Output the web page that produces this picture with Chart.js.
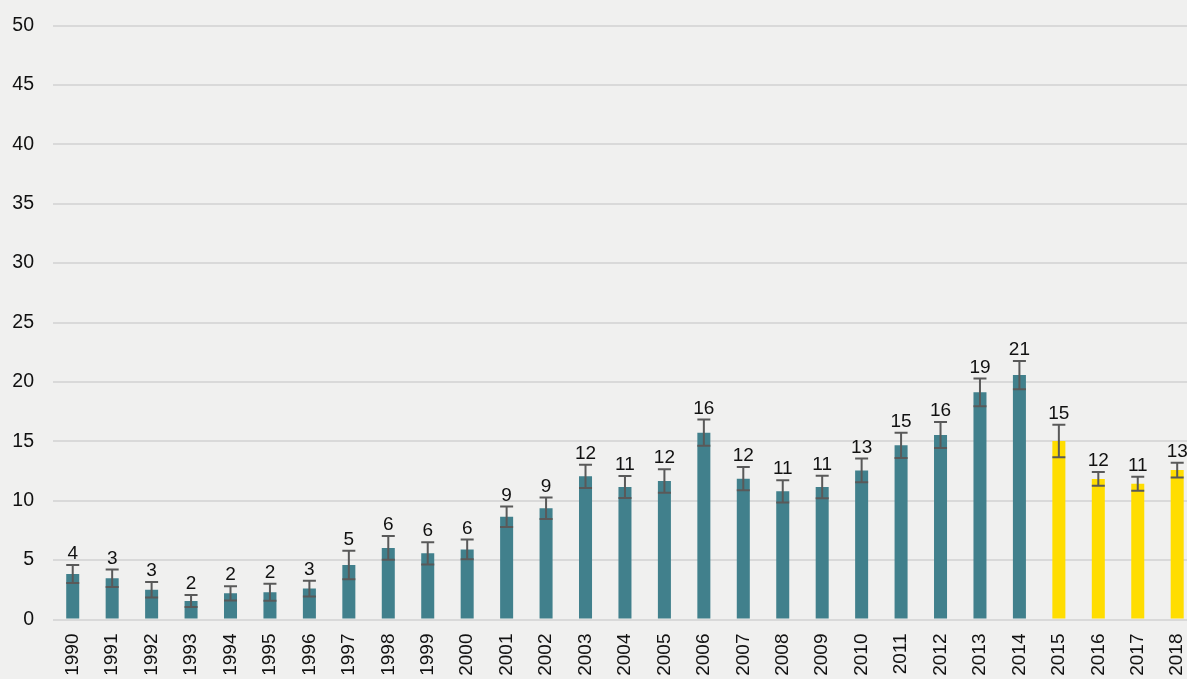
<!DOCTYPE html>
<html>
<head>
<meta charset="utf-8">
<script src="https://cdn.jsdelivr.net/npm/chart.js@4/dist/chart.umd.min.js"></script>
<style>
    html, body {
        margin: 0;
        padding: 0;
        background: #f0f0ef;
        overflow: hidden;
    }
    .chart-box {
        width: 1214px;
        height: 679px;
    }
</style>
</head>
<body>
<div class="chart-box">
    <canvas id="yearChart"></canvas>
</div>
<script>
// Yearly values with their uncertainty (+/-)
const years = ['1990', '1991', '1992', '1993', '1994', '1995', '1996', '1997', '1998', '1999',
    '2000', '2001', '2002', '2003', '2004', '2005', '2006', '2007', '2008', '2009',
    '2010', '2011', '2012', '2013', '2014', '2015', '2016', '2017', '2018'];
const values = [3.83, 3.47, 2.51, 1.56, 2.2, 2.29, 2.6, 4.59, 6.02, 5.57,
    5.9, 8.65, 9.36, 12.05, 11.15, 11.66, 15.73, 11.85, 10.79, 11.15,
    12.55, 14.66, 15.53, 19.12, 20.58, 15.03, 11.83, 11.43, 12.58];
const errors = [0.76, 0.73, 0.65, 0.5, 0.6, 0.72, 0.66, 1.2, 1.0, 0.93,
    0.83, 0.86, 0.9, 0.98, 0.93, 0.98, 1.1, 0.98, 0.94, 0.95,
    1.0, 1.07, 1.1, 1.16, 1.19, 1.37, 0.58, 0.59, 0.62];
// years from this one on are drawn in yellow
const firstNewYear = '2015';
const yTicks = [0, 5, 10, 15, 20, 25, 30, 35, 40, 45, 50];

const TEAL = '#41808c';
const YELLOW = '#ffdd00';
const FONT = '"Liberation Sans", Arial, sans-serif';

const barColors = years.map(y => (y >= firstNewYear ? YELLOW : TEAL));

// error bars + rounded value above each bar
const errorBarPlugin = {
    id: 'errorBars',
    afterDatasetsDraw(chart) {
        const ctx = chart.ctx;
        const yScale = chart.scales.y;
        const meta = chart.getDatasetMeta(0);
        ctx.save();
        meta.data.forEach((bar, i) => {
            const x = bar.x;
            const top = yScale.getPixelForValue(values[i] + errors[i]);
            const bottom = yScale.getPixelForValue(values[i] - errors[i]);
            const cap = 6.5;

            ctx.strokeStyle = '#595959';
            ctx.lineWidth = 2;
            ctx.beginPath();
            ctx.moveTo(x, top);
            ctx.lineTo(x, bottom);
            ctx.moveTo(x - cap, top);
            ctx.lineTo(x + cap, top);
            ctx.moveTo(x - cap, bottom);
            ctx.lineTo(x + cap, bottom);
            ctx.stroke();

            ctx.fillStyle = '#111';
            ctx.font = '19px ' + FONT;
            ctx.textAlign = 'center';
            ctx.textBaseline = 'alphabetic';
            ctx.fillText(String(Math.round(values[i])), x, top - 6);
        });
        ctx.restore();
    }
};

const ctx = document.getElementById('yearChart').getContext('2d');

new Chart(ctx, {
    type: 'bar',
    data: {
        labels: years,
        datasets: [{
            data: values,
            backgroundColor: barColors,
            borderWidth: 0,
            categoryPercentage: 1,
            barPercentage: 0.33
        }]
    },
    options: {
        responsive: true,
        maintainAspectRatio: false,
        animation: false,
        layout: {
            padding: { top: 0, right: 0, left: 0, bottom: 0 }
        },
        plugins: {
            legend: { display: false },
            tooltip: { enabled: false }
        },
        scales: {
            x: {
                grid: { display: false, drawTicks: false },
                border: { display: false },
                ticks: {
                    color: '#111',
                    font: { family: FONT, size: 19 },
                    minRotation: 90,
                    maxRotation: 90,
                    autoSkip: false,
                    padding: 14
                },
                afterFit(scale) {
                    scale.height = 59.5;
                }
            },
            y: {
                min: 0,
                max: 50,
                afterBuildTicks(scale) {
                    scale.ticks = yTicks.map(v => ({ value: v }));
                },
                grid: {
                    color: '#d9d9d9',
                    lineWidth: 2,
                    drawTicks: false
                },
                border: { display: false },
                ticks: {
                    color: '#111',
                    // small lineHeight keeps the top label's reserved space tight
                    font: { family: FONT, size: 19.5, lineHeight: 0.67 },
                    padding: 19
                },
                afterFit(scale) {
                    scale.width = 53;
                }
            }
        }
    },
    plugins: [errorBarPlugin]
});
</script>
</body>
</html>
